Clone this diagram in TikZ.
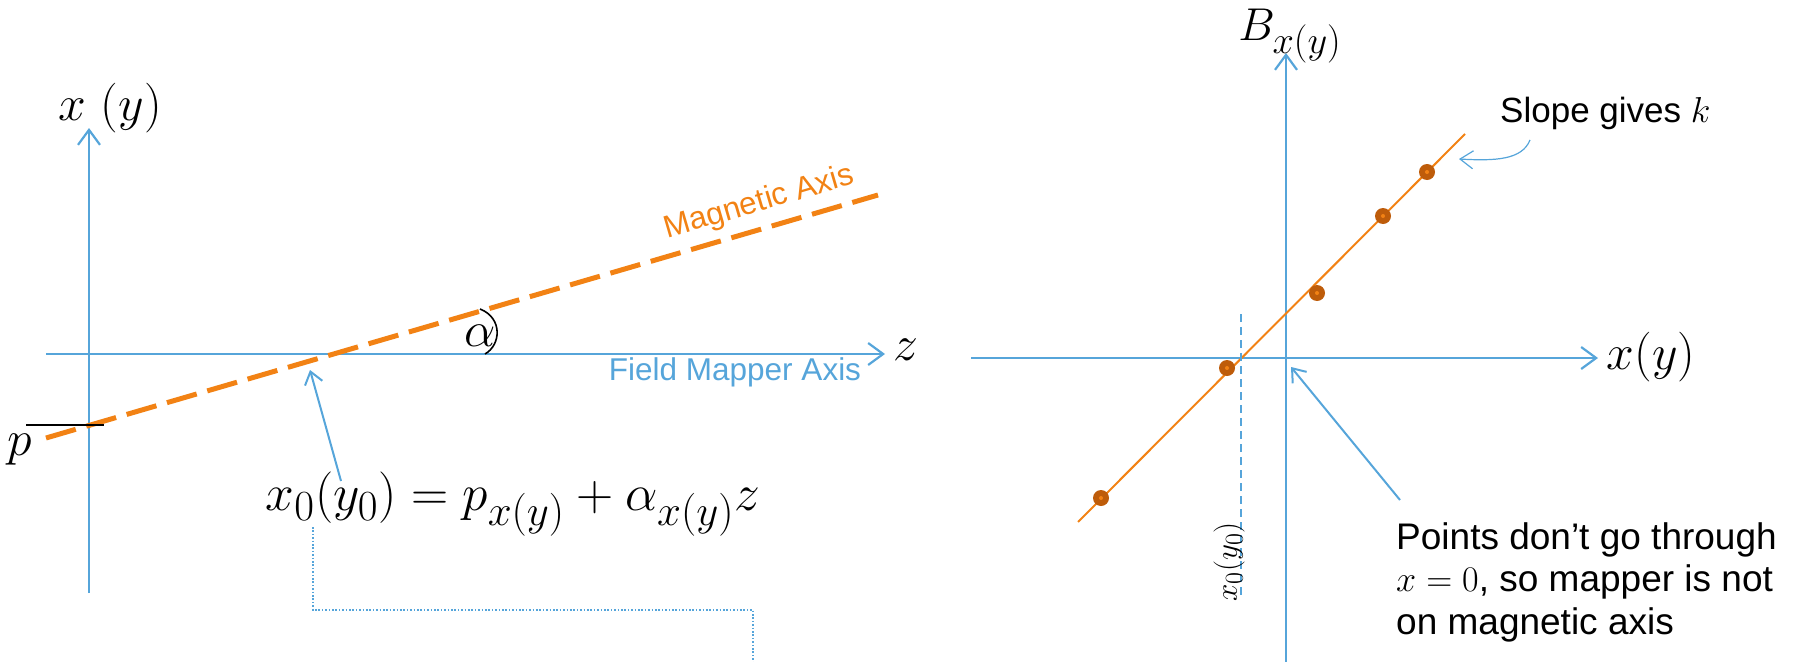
\documentclass[tikz,border=0pt]{standalone}
\usepackage{graphicx}
\usepackage[no-math]{fontspec}
\newfontfamily\arial{Liberation Sans}
\usetikzlibrary{arrows.meta}
\definecolor{axblue}{RGB}{86,165,218}
\definecolor{magor}{RGB}{242,130,20}
\definecolor{mdark}{RGB}{190,92,10}
\newcommand{\mymath}[2][2.0]{\scalebox{#1}{\Huge$#2$}}
\newcommand{\txm}[1]{\scalebox{1.45}{\Huge$#1$}}
\tikzset{
  axis/.style={draw=axblue, line width=2.2pt, -{Straight Barb[length=15pt,width=22pt,line width=2.2pt]}},
  pointer/.style={draw=axblue, line width=2pt, -{Straight Barb[length=12pt,width=18pt,line width=2pt]}},
  thinpointer/.style={draw=axblue, line width=1.2pt, -{Straight Barb[length=13pt,width=18pt,line width=1.2pt]}},
  magaxis/.style={draw=magor, line width=5pt, dash pattern=on 31pt off 11pt},
  fitline/.style={draw=magor, line width=2pt},
  dotline/.style={draw=axblue, line width=1.6pt, dash pattern=on 1.6pt off 1.8pt},
  dashline/.style={draw=axblue, line width=1.4pt, dash pattern=on 8pt off 5pt},
  bigmath/.style={inner sep=0pt},
  txt/.style={inner sep=0pt, font=\arial\fontsize{35}{42}\selectfont},
  axtxt/.style={inner sep=0pt, font=\arial\fontsize{31.5}{36}\selectfont},
  pt/.style={circle, fill=mdark, minimum size=16pt, inner sep=0pt,
    path picture={\fill[magor] (path picture bounding box.center) circle (2pt);}},
}
\begin{document}
\begin{tikzpicture}[x=1pt,y=-1pt]
\useasboundingbox (0,0) rectangle (1798,661);
% ---------- left panel ----------
\coordinate (ly0) at (89,593);
\coordinate (ly1) at (89,128);
\coordinate (lz0) at (46,354);
\coordinate (lz1) at (885,354);
\coordinate (m0) at (46,438);
\coordinate (m1) at (878,195);
\coordinate (pl0) at (26,425);
\coordinate (pl1) at (104,425);
\draw[axis] (ly0) -- (ly1);
\draw[axis] (lz0) -- (lz1);
\draw[magaxis] (m0) -- (m1);
\draw[line width=1.6pt] (pl0) -- (pl1);
\node[bigmath] (xylab) at (110,108) {\mymath{x\ (y)}};
\node[bigmath] (zlab) at (906,350) {\mymath{z}};
\node[bigmath] (plab) at (20,450) {\mymath{p}};
\node[bigmath] (alab) at (480,336) {\mymath{\alpha}};
\draw[line width=1.6pt] (480,309) .. controls (503,318) and (501,345) .. (485,354);
\node[axtxt, text=magor, rotate=16.3] (magtxt) at (759,203) {Magnetic Axis};
\node[axtxt, text=axblue] (fmatxt) at (735,372) {Field Mapper Axis};
\node[bigmath] (eq) at (513,504) {\mymath[2.07]{x_0(y_0) = p_{x(y)} + \alpha_{x(y)} z}};
\coordinate (eqtail) at (341,481);
\coordinate (cross) at (310,370);
\draw[pointer] (eqtail) -- (cross);
\coordinate (d0) at (313,527);
\coordinate (d1) at (313,610);
\coordinate (d2) at (753,610);
\coordinate (d3) at (753,662);
\draw[dotline] (d0) -- (d1) -- (d2) -- (d3);
% ---------- right panel ----------
\coordinate (ry0) at (1286,662);
\coordinate (ry1) at (1286,53);
\coordinate (rx0) at (971,358);
\coordinate (rx1) at (1598,358);
\draw[axis] (ry0) -- (ry1);
\draw[axis] (rx0) -- (rx1);
\node[bigmath] (blab) at (1290,36) {\mymath[1.85]{B_{x(y)}}};
\node[bigmath] (rxlab) at (1651,357) {\mymath{x(y)}};
\coordinate (f0) at (1078,522);
\coordinate (f1) at (1465,134);
\draw[fitline] (f0) -- (f1);
\coordinate (v0) at (1241,314);
\coordinate (v1) at (1241,598);
\draw[dashline] (v0) -- (v1);
\node[pt] (q1) at (1101,498) {};
\node[pt] (q2) at (1227,368) {};
\node[pt] (q3) at (1317,293) {};
\node[pt] (q4) at (1383,216) {};
\node[pt] (q5) at (1427,172) {};
\node[inner sep=0pt, rotate=90] (x0lab) at (1229,562) {\scalebox{1.25}{\Huge$x_0(y_0)$}};
\node[inner sep=0pt, align=left, anchor=west, font=\arial\fontsize{37}{42.5}\selectfont] (ptstxt) at (1396,582) {Points don’t go through\\\txm{x=0}, so mapper is not\\on magnetic axis};
\coordinate (ptail) at (1400,500);
\coordinate (origin) at (1291,367);
\draw[pointer] (ptail) -- (origin);
\node[txt, anchor=west] (slope) at (1500,113) {Slope gives \txm{k}};
\coordinate (stail) at (1530,140);
\coordinate (shead) at (1459,159);
\draw[thinpointer] (stail) .. controls (1522,160) and (1495,161) .. (shead);
\end{tikzpicture}
\end{document}
